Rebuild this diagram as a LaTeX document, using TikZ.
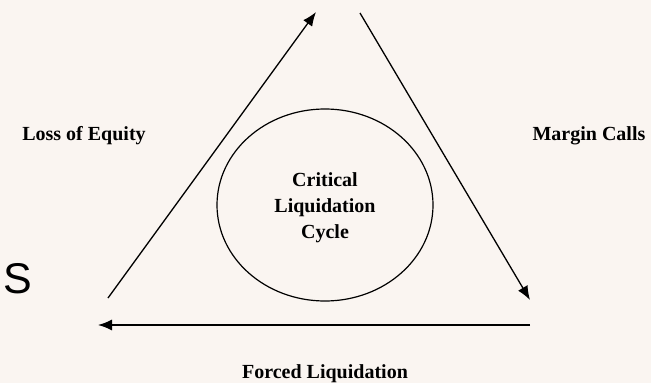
\documentclass[tikz,border=0pt]{standalone}
\usepackage{fontspec}
\setmainfont{Liberation Serif}
\setsansfont{Liberation Sans}
\usetikzlibrary{arrows.meta,shapes.geometric}
\definecolor{paper}{RGB}{250,245,241}

\begin{document}
\begin{tikzpicture}[x=1pt,y=-1pt,>={Latex[length=14pt,width=11pt]},
 lbl/.style={font=\fontsize{20}{26}\selectfont\bfseries,align=center,inner sep=0pt,anchor=base},
 flow/.style={->,line width=1.3pt}]
\fill[paper] (0,0) rectangle (651,383);
\useasboundingbox (0,0) rectangle (651,383);
% ends of the three sides
\coordinate (lb) at (108,298);
\coordinate (lt) at (316,12);
\coordinate (rt) at (360,13);
\coordinate (rb) at (530,300);
\coordinate (br) at (530,325);
\coordinate (bl) at (98,325);
\draw[flow] (lb) -- (lt);
\draw[flow] (rt) -- (rb);
\draw[flow] (br) -- (bl);
% the cycle in the middle
\node[draw,ellipse,line width=1.2pt,minimum width=216pt,minimum height=192pt] (cyc) at (325,205) {};
\node[lbl,anchor=center] (cyctxt) at (325,208) {Critical\\Liquidation\\Cycle};
\node[lbl] (equity) at (84,140) {Loss of Equity};
\node[lbl] (margin) at (589,140) {Margin Calls};
\node[lbl] (forced) at (325,378) {Forced Liquidation};
\node[font=\sffamily\fontsize{43}{43}\selectfont,anchor=base,inner sep=0pt] (s) at (18,293) {S};
\end{tikzpicture}
\end{document}
